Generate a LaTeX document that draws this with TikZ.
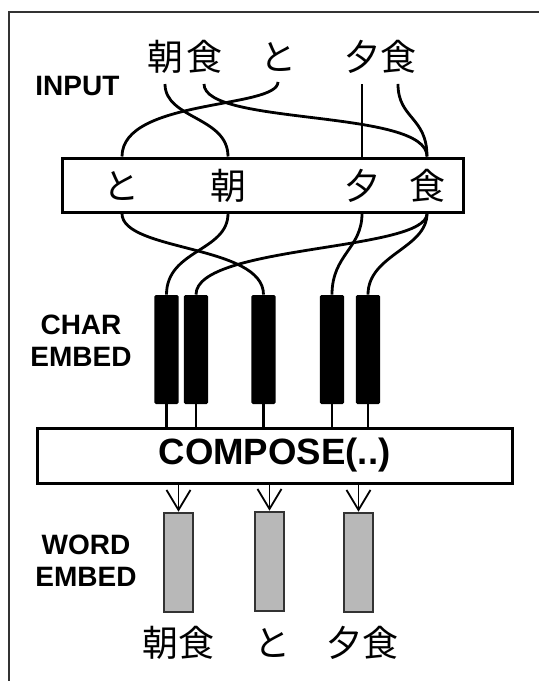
\documentclass[tikz,border=0pt]{standalone}
\usepackage{fontspec}
\usetikzlibrary{arrows.meta}
\newfontfamily\labelfont{Liberation Sans}
\newfontfamily\cjk{Noto Sans CJK JP}
\definecolor{vecgray}{gray}{0.72}
\definecolor{framegray}{gray}{0.2}

\begin{document}
\begin{tikzpicture}[
  x=0.5pt, y=-0.5pt,
  lbl/.style={font=\labelfont\bfseries\fontsize{14}{16}\selectfont, align=center, inner sep=0pt},
  jp/.style={font=\cjk\fontsize{18}{20}\selectfont, inner sep=0pt},
  bigbox/.style={draw, line width=1.5pt, fill=white, minimum width=#1, inner sep=0pt},
  charvec/.style={fill=black, rounded corners=0.8pt, minimum width=12.2pt, minimum height=54.5pt, inner sep=0pt},
  wordvec/.style={draw=framegray, line width=1.3pt, fill=vecgray, minimum width=14.5pt, minimum height=49.5pt, inner sep=0pt},
  link/.style={line width=1.4pt},
  arr/.style={-{Straight Barb[length=10pt,width=12pt]}, line width=0.9pt},
]
  \useasboundingbox (0,0) rectangle (539,681);
  \draw[line width=1pt, framegray] (539,12) -| (9,681);

  % sentence as typed
  \node[jp] (t1) at (165,57) {朝};
  \node[jp] (t2) at (204,57) {食};
  \node[jp] (t3) at (278,57) {と};
  \node[jp] (t4) at (362,57) {夕};
  \node[jp] (t5) at (398,57) {食};
  \node[lbl, anchor=west] (input) at (35,86) {INPUT};

  % character lookup
  \node[bigbox=200.5pt, minimum height=27pt] (lookup) at (262.5,185) {};
  \node[jp] (k1) at (122,186) {と};
  \node[jp] (k2) at (228,186) {朝};
  \node[jp] (k3) at (362,186) {夕};
  \node[jp] (k4) at (427,186) {食};

  \draw[link] ([yshift=-5pt]t1.south) .. controls +(0,35) and +(0,-40) .. (k2 |- lookup.north);
  \draw[link] ([yshift=-5pt]t3.south) .. controls +(0,27) and +(0,-58) .. (k1 |- lookup.north);
  \draw[link] ([yshift=-5pt]t2.south) .. controls +(0,42) and +(0,-48) .. (k4 |- lookup.north);
  \draw[link] ([yshift=-5pt]t4.south) -- (k3 |- lookup.north);
  \draw[link] ([yshift=-5pt]t5.south) .. controls +(0,35) and +(0,-40) .. (k4 |- lookup.north);

  % character embeddings
  \node[charvec] (e1) at (166.5,349.5) {};
  \node[charvec] (e2) at (196,349.5) {};
  \node[charvec] (e3) at (263.5,349.5) {};
  \node[charvec] (e4) at (332,349.5) {};
  \node[charvec] (e5) at (368,349.5) {};
  \node[lbl] (charlbl) at (81,341) {CHAR\\EMBED};

  \draw[link] (k1 |- lookup.south) .. controls +(0,38) and +(0,-50) .. (e3.north);
  \draw[link] (k2 |- lookup.south) .. controls +(0,38) and +(0,-45) .. (e1.north);
  \draw[link] (k4 |- lookup.south) .. controls +(0,38) and +(0,-50) .. (e2.north);
  \draw[link] (k3 |- lookup.south) .. controls +(0,35) and +(0,-40) .. (e4.north);
  \draw[link] (k4 |- lookup.south) .. controls +(0,35) and +(0,-40) .. (e5.north);

  \node[bigbox=237.5pt, minimum height=27.5pt, font=\labelfont\bfseries\fontsize{18.3}{20}\selectfont] (compose) at (274.5,455.5) {COMPOSE(..)};
  \foreach \e in {e1,e2,e3,e4,e5}
    \draw[link] (\e.south) -- (\e |- compose.north);

  % word embeddings
  \node[wordvec] (w1) at (178.5,562.5) {};
  \node[wordvec] (w2) at (269.5,561.5) {};
  \node[wordvec] (w3) at (358.5,562.5) {};
  \node[lbl] (wordlbl) at (86,561) {WORD\\EMBED};
  \foreach \w in {w1,w2,w3}
    \draw[arr] (\w |- compose.south) -- (\w.north);

  \node[jp] (o1) at (178,643) {朝食};
  \node[jp] (o2) at (272,643) {と};
  \node[jp] (o3) at (362,643) {夕食};
\end{tikzpicture}
\end{document}
